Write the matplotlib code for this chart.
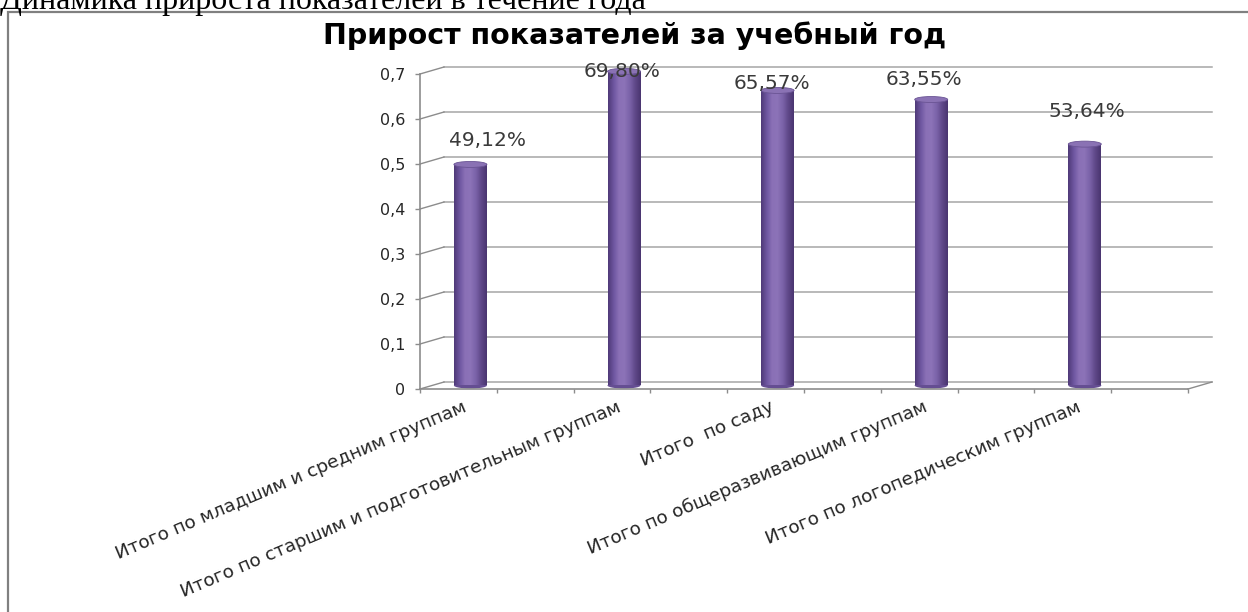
import numpy as np
import matplotlib
matplotlib.use("Agg")
import matplotlib.pyplot as plt
from matplotlib.colors import LinearSegmentedColormap
from matplotlib.patches import Ellipse, Rectangle
from matplotlib.transforms import offset_copy

# данные диаграммы
categories = [
    "Итого по младшим и средним группам",
    "Итого по старшим и подготовительным группам",
    "Итого  по саду",
    "Итого по общеразвивающим группам",
    "Итого по логопедическим группам",
]
values = [0.4912, 0.6980, 0.6557, 0.6355, 0.5364]
yticks = [0, 0.1, 0.2, 0.3, 0.4, 0.5, 0.6, 0.7]
page_caption = "Динамика прироста показателей в течение года"
chart_title = "Прирост показателей за учебный год"

# положение подписей значений относительно верха столбца (пиксели)
label_dx = [17, -2, -6, -7, 2]
label_dy = [24, 0, 7, 20, 33]

W, H = 1248, 612
fig = plt.figure(figsize=(W / 100, H / 100), dpi=100)
fig.patch.set_facecolor("white")

ax = fig.add_axes([420 / W, (H - 389) / H, 768 / W, 315 / H])
n_slots = 2 * len(categories)
ax.set_xlim(0, n_slots)
ax.set_ylim(0, 0.7)
ax.patch.set_alpha(0)

# перевод пикселей в единицы данных (глубина 3D-эффекта)
bb = ax.get_position()
ux = n_slots / (bb.width * W)
uy = 0.7 / (bb.height * H)
ddx, ddy = 24 * ux, 7 * uy
ell_h = 6 * uy
bar_w = 33 * ux

grid_c = "#a6a6a6"
axis_c = "#8c8c8c"

# задняя стенка и пол
for v in yticks:
    ax.plot([ddx, n_slots + ddx], [v + ddy, v + ddy], color=grid_c, lw=1.1,
            zorder=1, clip_on=False)
    ax.plot([0, ddx], [v, v + ddy], color=axis_c, lw=1.0, zorder=1, clip_on=False)
ax.plot([n_slots, n_slots + ddx], [0, ddy], color=axis_c, lw=1.0, zorder=1,
        clip_on=False)

# цилиндрические столбцы
cyl = LinearSegmentedColormap.from_list(
    "cyl", ["#4f3a78", "#6e56a0", "#8a70b6", "#8c73b8", "#7a62a8", "#5f4889", "#4a3570"])
grad = np.linspace(0, 1, 64).reshape(1, -1)
pos = [2 * i + 0.5 + ddx / 2 for i in range(len(categories))]
bars = ax.bar(pos, values, width=bar_w, bottom=ddy / 2, facecolor="none",
              edgecolor="none", zorder=3)
for b, x, v in zip(bars, pos, values):
    x0, x1 = x - bar_w / 2, x + bar_w / 2
    y0, y1 = ddy / 2, ddy / 2 + v
    ax.add_patch(Ellipse((x, y0), bar_w, ell_h, facecolor="#654e92",
                         edgecolor="none", zorder=2, clip_on=False))
    im = ax.imshow(grad, extent=[x0, x1, y0, y1], aspect="auto", cmap=cyl,
                   zorder=3, interpolation="bilinear")
    im.set_clip_path(b)
    ax.add_patch(Ellipse((x, y1), bar_w, ell_h, facecolor="#8a72b4",
                         edgecolor="#6a5494", lw=0.6, zorder=4, clip_on=False))

# подписи значений
for x, v, dx, dy in zip(pos, values, label_dx, label_dy):
    txt = f"{v * 100:.2f}%".replace(".", ",")
    ax.annotate(txt, (x, v + ddy / 2), xytext=(dx, dy), textcoords="offset pixels",
                ha="center", va="center", fontsize=14.5, color="#3a3a3a",
                family="DejaVu Sans", zorder=6, annotation_clip=False)

ax.set_xlim(0, n_slots)
ax.set_ylim(0, 0.7)

# оси
for s in ["top", "right"]:
    ax.spines[s].set_visible(False)
for s in ["left", "bottom"]:
    ax.spines[s].set_color(axis_c)
    ax.spines[s].set_linewidth(1.2)

ax.set_yticks(yticks)
ax.set_yticklabels(["0" if v == 0 else f"{v:.1f}".replace(".", ",") for v in yticks])
ax.tick_params(axis="y", length=3.6, width=1, color=axis_c, pad=7,
               labelsize=11.5, labelcolor="#262626")
ax.set_xticks(range(n_slots + 1))
ax.set_xticklabels([])
ax.tick_params(axis="x", length=3, width=1, color=axis_c)

# подписи категорий
cat_tr = offset_copy(ax.get_xaxis_transform(), fig=fig, x=4, y=-9, units="dots")
for i, name in enumerate(categories):
    ax.text(2 * i + 0.5, 0, name, transform=cat_tr, rotation=23,
            rotation_mode="anchor", ha="right", va="top", fontsize=13.3,
            color="#262626", family="DejaVu Sans")

# рамка диаграммы и заголовки
fig.add_artist(Rectangle((8 / W, -0.1), 1.2, 1.1 - 12 / H, transform=fig.transFigure,
                         facecolor="none", edgecolor="#808080", lw=1.6))
fig.text(0, 1 - 9 / H, page_caption, ha="left", va="baseline",
         family="Liberation Serif", fontsize=23, color="black")
fig.text(635 / W, 1 - 36 / H, chart_title, ha="center", va="center",
         family="DejaVu Sans", fontweight="bold", fontsize=20.5, color="black")

fig.savefig("out.png", dpi=100)
